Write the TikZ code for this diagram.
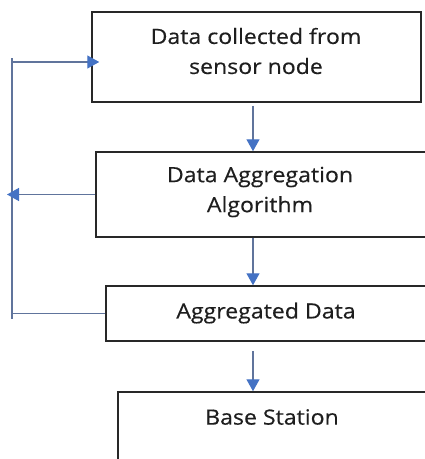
\documentclass[tikz,border=0pt]{standalone}
\usepackage{fontspec}
\setmainfont{Open Sans}[FakeStretch=1.1,FakeBold=0.4]
\usetikzlibrary{arrows.meta}
\definecolor{linkline}{RGB}{96,116,156}
\definecolor{linkhead}{RGB}{68,114,196}
\definecolor{boxline}{RGB}{40,40,40}
\definecolor{labeltext}{RGB}{30,30,30}
\tikzset{
  stagebox/.style={draw=boxline, line width=1.5pt, rectangle, inner sep=0pt},
  stagetext/.style={text=labeltext, font=\fontsize{21}{30}\selectfont, align=center, inner sep=0pt},
  link/.style={draw=linkline, line width=1.4pt},
  flow/.style={link, -{Triangle[length=12pt,width=13pt,fill=linkhead,color=linkhead]}},
}
\begin{document}
\begin{tikzpicture}[x=1pt,y=-1pt]
  \useasboundingbox (0,0) rectangle (425,459);

  % stage boxes (the lower three run past the right margin)
  \node[stagebox, minimum width=329pt, minimum height=90pt] (box1) at (256.5,57) {};
  \node[stagebox, minimum width=344pt, minimum height=85pt] (box2) at (268,194.5) {};
  \node[stagebox, minimum width=334pt, minimum height=55pt] (box3) at (273,313.5) {};
  \node[stagebox, minimum width=322pt, minimum height=83pt] (box4) at (279,433.5) {};

  % stage labels
  \node[stagetext] (t1) at (256,51) {Data collected from\\sensor node};
  \node[stagetext] (t2) at (260,192) {Data Aggregation\\Algorithm};
  \node[stagetext] (t3) at (266,313) {Aggregated Data};
  \node[stagetext] (t4) at (272,417) {Base Station};

  % main downward flow
  \coordinate (col) at (253,0);
  \draw[flow] ([yshift=-3pt]box1.south -| col) -- (box2.north -| col);
  \draw[flow] (box2.south -| col) -- (box3.north -| col);
  \draw[flow] ([yshift=-9pt]box3.south -| col) -- (box4.north -| col);

  % feedback bus on the left
  \coordinate (bustop) at (12,58);
  \coordinate (busbot) at (12,319);
  \coordinate (feedin) at (12,62);
  \draw[link] (bustop) -- (busbot);
  \draw[flow, shorten >=-8pt] (feedin) -- (feedin -| box1.west);
  \draw[flow, shorten >=-5pt] (box2.west) -- (box2.west -| bustop);
  \draw[link] (box3.west) -- (box3.west -| bustop);
\end{tikzpicture}
\end{document}
